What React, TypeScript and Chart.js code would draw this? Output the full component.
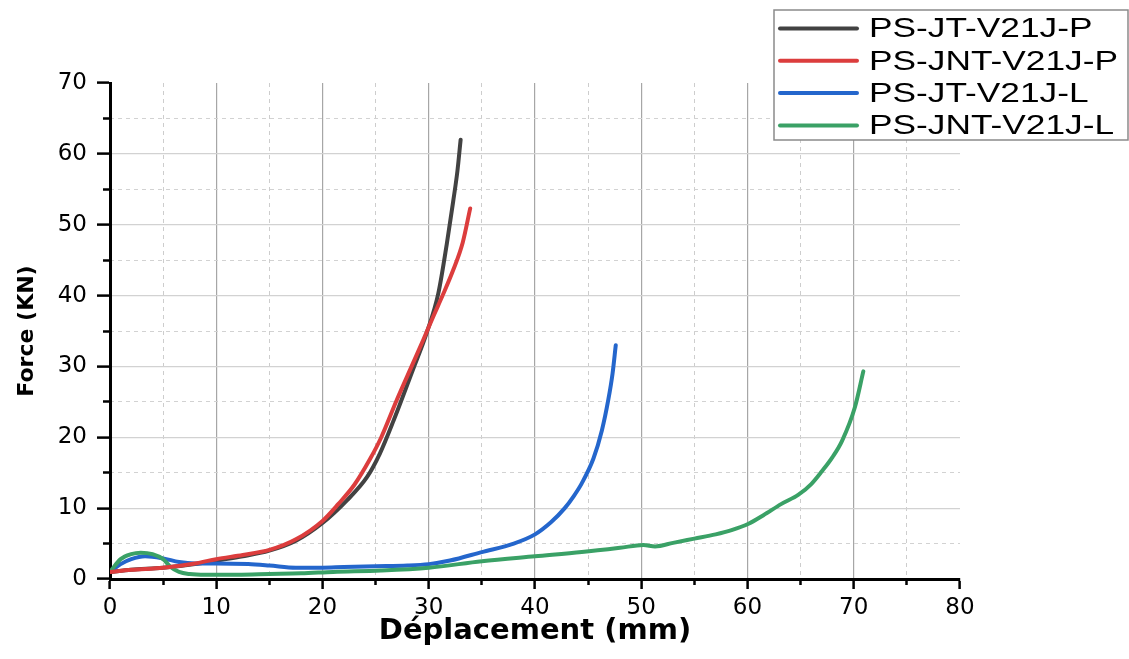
import React, { useEffect, useRef } from 'react';
import { Chart, registerables } from 'chart.js';

Chart.register(...registerables);

// ---- data ----
const seriesLabels = ['PS-JT-V21J-P', 'PS-JNT-V21J-P', 'PS-JT-V21J-L', 'PS-JNT-V21J-L'];

const jtP_x = [0, 2, 5, 8, 10, 12.5, 15, 17.5, 20, 22.3, 24.2, 25.4, 26.7, 28.5, 29.8, 30.9, 31.7, 32.3, 32.7, 33.0];
const jtP_y = [1, 1.3, 1.6, 2.1, 2.6, 3.2, 4.0, 5.4, 7.9, 11.1, 14.4, 17.7, 22.4, 29.5, 34.7, 40.3, 47.3, 53.3, 57.6, 62];

const jntP_x = [0, 2, 5, 8, 10, 12.5, 15, 17.5, 20, 21.5, 23, 24.5, 25.5, 27, 28.5, 29.5, 30.5, 31.3, 32.3, 33.2, 33.9];
const jntP_y = [1, 1.3, 1.6, 2.2, 2.8, 3.4, 4.1, 5.6, 8.2, 10.6, 13.3, 17, 19.9, 25.3, 30.4, 33.8, 37.3, 40, 43.6, 47.5, 52.3];

const jtL_x = [0, 1, 2, 3.3, 5, 6.5, 8, 10, 13, 15, 17.5, 20, 22, 25, 28, 30, 32, 35, 38, 40, 41.5, 42.8, 43.6, 44.4, 45.5, 46.3, 46.9, 47.3, 47.6];
const jtL_y = [1, 2.1, 2.8, 3.2, 2.9, 2.4, 2.2, 2.2, 2.1, 1.9, 1.6, 1.6, 1.7, 1.8, 1.9, 2.1, 2.6, 3.8, 5, 6.3, 8.0, 10.0, 11.6, 13.5, 17, 21, 25.3, 29, 33];

const jntL_x = [0, 1, 2, 2.9, 4, 5, 5.7, 6.5, 7.5, 9, 12, 15, 18, 21, 25.5, 30, 35, 40, 44.4, 48, 50.2, 51.3, 53, 55, 57, 58.5, 60.1, 61.5, 63.2, 64.8, 66, 67, 68, 68.9, 70.1, 70.9];
const jntL_y = [1, 2.8, 3.5, 3.7, 3.5, 2.8, 1.7, 1.0, 0.7, 0.6, 0.6, 0.7, 0.8, 1.0, 1.2, 1.6, 2.5, 3.2, 3.8, 4.4, 4.8, 4.6, 5.1, 5.7, 6.3, 6.9, 7.8, 9.0, 10.6, 11.9, 13.4, 15.2, 17.2, 19.5, 24.2, 29.3];

const xTickStep = 10;
const yTickStep = 10;
const minorStep = 5;
const xMax = 80;
const yMax = 70;

// ---- styles ----
const colors = ['#424242', '#dc3d3d', '#2466cc', '#3aa166'];
const drawOrder = [4, 1, 3, 2];

const toPoints = (xs: number[], ys: number[]) => xs.map((x, i) => ({ x, y: ys[i] }));

const legendPlugin = {
  id: 'boxLegend',
  afterDraw(chart: any) {
    const ctx = chart.ctx as CanvasRenderingContext2D;
    ctx.save();
    const bx = 774, by = 10, bw = 354, bh = 130;
    ctx.fillStyle = '#ffffff';
    ctx.fillRect(bx, by, bw, bh);
    ctx.strokeStyle = '#8a8a8a';
    ctx.lineWidth = 1.5;
    ctx.strokeRect(bx, by, bw, bh);
    chart.data.datasets.forEach((ds: any, i: number) => {
      const cy = 28.5 + i * 32.3;
      ctx.strokeStyle = ds.borderColor;
      ctx.lineWidth = 4;
      ctx.lineCap = 'round';
      ctx.beginPath();
      ctx.moveTo(780, cy);
      ctx.lineTo(857, cy);
      ctx.stroke();
      ctx.save();
      ctx.translate(869, cy);
      ctx.scale(1.26, 1);
      ctx.font = '28px "Liberation Sans", Arial, sans-serif';
      ctx.fillStyle = '#000000';
      ctx.textBaseline = 'middle';
      ctx.textAlign = 'left';
      ctx.fillText(ds.label, 0, 1);
      ctx.restore();
    });
    ctx.restore();
  },
};

export default function App() {
  const ref = useRef<HTMLCanvasElement>(null);

  useEffect(() => {
    if (!ref.current) return;
    const xs = [jtP_x, jntP_x, jtL_x, jntL_x];
    const ys = [jtP_y, jntP_y, jtL_y, jntL_y];
    const chart = new Chart(ref.current, {
      type: 'line',
      data: {
        datasets: seriesLabels.map((label, i) => ({
          label,
          data: toPoints(xs[i], ys[i]),
          borderColor: colors[i],
          backgroundColor: colors[i],
          borderWidth: 4,
          pointRadius: 0,
          borderCapStyle: 'round' as const,
          borderJoinStyle: 'round' as const,
          cubicInterpolationMode: 'monotone' as const,
          order: drawOrder[i],
          fill: false,
        })),
      },
      options: {
        animation: false,
        responsive: true,
        maintainAspectRatio: false,
        layout: { padding: { top: 83, right: 169, bottom: 0, left: 0 } },
        plugins: {
          legend: { display: false },
          tooltip: { enabled: false },
        },
        scales: {
          x: {
            type: 'linear',
            position: 'bottom',
            min: 0,
            max: xMax,
            weight: 0,
            afterFit: (s: any) => { s.height = 80; s.paddingLeft = 0; s.paddingRight = 0; },
            ticks: {
              stepSize: xTickStep,
              autoSkip: false,
              maxRotation: 0,
              color: '#000',
              padding: 5,
              font: { family: '"DejaVu Sans", sans-serif', size: 23 },
            },
            grid: {
              color: (c: any) => (c.tick && (c.tick.value === 0 || c.tick.value === xMax) ? 'rgba(0,0,0,0)' : '#a6a6a6'),
              lineWidth: 1.2,
              tickLength: 10,
              tickColor: '#000',
              tickWidth: 2.5,
            },
            border: { display: true, color: '#000', width: 3 },
            title: {
              display: true,
              text: 'Déplacement (mm)',
              color: '#000',
              font: { family: '"DejaVu Sans", sans-serif', size: 29, weight: 'bold' },
              padding: { top: 0, bottom: 10 },
            },
          },
          x2: {
            type: 'linear',
            position: 'bottom',
            min: 0,
            max: xMax,
            weight: -1,
            afterFit: (s: any) => { s.height = 0; s.paddingLeft = 0; s.paddingRight = 0; },
            ticks: { display: false, stepSize: minorStep },
            grid: {
              color: (c: any) => (c.tick && c.tick.value % 10 === 0 ? 'rgba(0,0,0,0)' : '#cdcdcd'),
              lineWidth: 1,
              tickLength: 6,
              tickColor: (c: any) => (c.tick && c.tick.value % 10 === 0 ? 'rgba(0,0,0,0)' : '#000'),
              tickWidth: 2.5,
            },
            border: { display: false, dash: [4, 4] },
          },
          y: {
            type: 'linear',
            position: 'left',
            min: 0,
            max: yMax,
            weight: 0,
            afterFit: (s: any) => { s.width = 110; s.paddingTop = 0; s.paddingBottom = 0; },
            ticks: {
              stepSize: yTickStep,
              color: '#000',
              padding: 10,
              font: { family: '"DejaVu Sans", sans-serif', size: 23 },
            },
            grid: {
              color: (c: any) => (c.tick && (c.tick.value === 0 || c.tick.value === yMax) ? 'rgba(0,0,0,0)' : '#d2d2d2'),
              lineWidth: 1.2,
              tickLength: 13,
              tickColor: '#000',
              tickWidth: 2.5,
            },
            border: { display: true, color: '#000', width: 3 },
            title: {
              display: true,
              text: 'Force (KN)',
              color: '#000',
              font: { family: '"DejaVu Sans", sans-serif', size: 22, weight: 'bold' },
              padding: { top: 14, bottom: 0 },
            },
          },
          y2: {
            type: 'linear',
            position: 'left',
            min: 0,
            max: yMax,
            weight: -1,
            afterFit: (s: any) => { s.width = 0; s.paddingTop = 0; s.paddingBottom = 0; },
            ticks: { display: false, stepSize: minorStep },
            grid: {
              color: (c: any) => (c.tick && c.tick.value % 10 === 0 ? 'rgba(0,0,0,0)' : '#d2d2d2'),
              lineWidth: 1,
              tickLength: 7,
              tickColor: (c: any) => (c.tick && c.tick.value % 10 === 0 ? 'rgba(0,0,0,0)' : '#000'),
              tickWidth: 2.5,
            },
            border: { display: false, dash: [4, 4] },
          },
        },
      } as any,
      plugins: [legendPlugin],
    });
    return () => chart.destroy();
  }, []);

  return (
    <div style={{ position: 'fixed', left: 0, top: 0, width: 1129, height: 659, background: '#fff' }}>
      <canvas ref={ref} />
    </div>
  );
}
